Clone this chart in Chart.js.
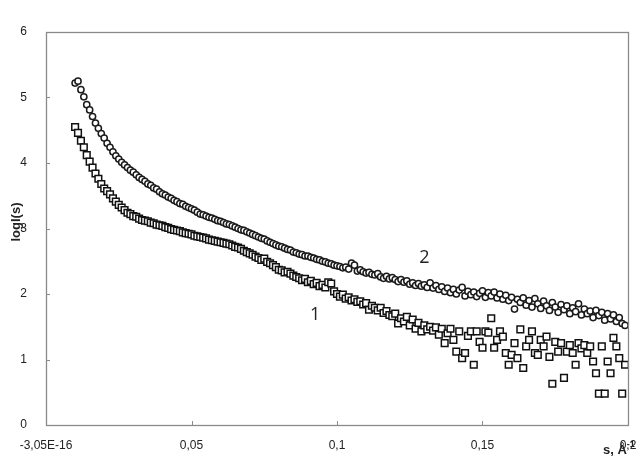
<!DOCTYPE html>
<html>
<head>
<meta charset="utf-8">
<script src="https://cdn.jsdelivr.net/npm/chart.js@4.4.1/dist/chart.umd.min.js"></script>
<style>
  html, body { margin: 0; padding: 0; background: #ffffff; }
  #wrap { width: 643px; height: 466px; }
</style>
</head>
<body>
<div id="wrap"><canvas id="c" width="643" height="466"></canvas></div>
<script>
// s values (1/Å)
const sValues = [
  0.010,0.011,0.012,0.013,0.014,0.015,0.016,0.017,0.018,0.019,
  0.020,0.021,0.022,0.023,0.024,0.025,0.026,0.027,0.028,0.029,
  0.030,0.031,0.032,0.033,0.034,0.035,0.036,0.037,0.038,0.039,
  0.040,0.041,0.042,0.043,0.044,0.045,0.046,0.047,0.048,0.049,
  0.050,0.051,0.052,0.053,0.054,0.055,0.056,0.057,0.058,0.059,
  0.060,0.061,0.062,0.063,0.064,0.065,0.066,0.067,0.068,0.069,
  0.070,0.071,0.072,0.073,0.074,0.075,0.076,0.077,0.078,0.079,
  0.080,0.081,0.082,0.083,0.084,0.085,0.086,0.087,0.088,0.089,
  0.090,0.091,0.092,0.093,0.094,0.095,0.096,0.097,0.098,0.099,
  0.100,0.101,0.102,0.103,0.104,0.105,0.106,0.107,0.108,0.109,
  0.110,0.111,0.112,0.113,0.114,0.115,0.116,0.117,0.118,0.119,
  0.120,0.121,0.122,0.123,0.124,0.125,0.126,0.127,0.128,0.129,
  0.130,0.131,0.132,0.133,0.134,0.135,0.136,0.137,0.138,0.139,
  0.140,0.141,0.142,0.143,0.144,0.145,0.146,0.147,0.148,0.149,
  0.150,0.151,0.152,0.153,0.154,0.155,0.156,0.157,0.158,0.159,
  0.160,0.161,0.162,0.163,0.164,0.165,0.166,0.167,0.168,0.169,
  0.170,0.171,0.172,0.173,0.174,0.175,0.176,0.177,0.178,0.179,
  0.180,0.181,0.182,0.183,0.184,0.185,0.186,0.187,0.188,0.189,
  0.190,0.191,0.192,0.193,0.194,0.195,0.196,0.197,0.198,0.199
];

// curve 1 (squares)
const series1 = [
  4.55,4.46,4.34,4.24,4.12,4.02,3.93,3.84,3.76,3.68,
  3.61,3.57,3.52,3.46,3.41,3.36,3.32,3.28,3.24,3.22,
  3.19,3.18,3.15,3.13,3.12,3.11,3.09,3.08,3.06,3.05,
  3.04,3.02,3.01,2.99,2.98,2.97,2.96,2.94,2.93,2.92,
  2.91,2.89,2.88,2.87,2.86,2.85,2.83,2.82,2.81,2.80,
  2.79,2.78,2.77,2.76,2.74,2.72,2.71,2.69,2.66,2.64,
  2.62,2.60,2.57,2.55,2.52,2.54,2.49,2.47,2.44,2.41,
  2.37,2.36,2.33,2.34,2.31,2.28,2.26,2.24,2.21,2.23,
  2.18,2.20,2.15,2.17,2.12,2.14,2.10,2.18,2.16,2.04,
  2.00,1.96,1.99,1.93,1.95,1.90,1.92,1.88,1.89,1.84,
  1.86,1.76,1.82,1.79,1.75,1.79,1.71,1.74,1.68,1.66,
  1.70,1.55,1.63,1.58,1.65,1.52,1.61,1.47,1.56,1.43,
  1.52,1.46,1.50,1.44,1.49,1.38,1.47,1.25,1.40,1.47,
  1.30,1.12,1.43,1.02,1.10,1.36,1.43,0.92,1.43,1.27,
  1.18,1.43,1.41,1.63,1.18,1.30,1.43,1.35,1.10,0.92,
  1.07,1.25,1.02,1.46,0.87,1.20,1.30,1.43,1.10,1.07,
  1.30,1.20,1.35,1.04,0.63,1.27,1.12,1.25,0.72,1.12,
  1.22,1.10,0.92,1.25,1.17,1.22,1.10,1.20,0.97,0.79,
  0.48,1.20,0.48,0.97,0.79,1.33,1.20,1.02,0.48,0.92
];

// curve 2 (circles)
const series2 = [
  5.22,5.25,5.12,5.01,4.89,4.81,4.71,4.61,4.53,4.45,
  4.38,4.30,4.24,4.17,4.11,4.06,4.01,3.97,3.93,3.89,
  3.86,3.82,3.78,3.75,3.72,3.68,3.66,3.62,3.60,3.56,
  3.53,3.51,3.48,3.46,3.43,3.41,3.38,3.37,3.34,3.32,
  3.30,3.28,3.25,3.22,3.21,3.19,3.17,3.16,3.14,3.12,
  3.11,3.09,3.07,3.06,3.04,3.02,3.00,2.98,2.97,2.95,
  2.93,2.91,2.89,2.87,2.85,2.84,2.81,2.79,2.77,2.75,
  2.73,2.72,2.70,2.68,2.67,2.64,2.63,2.61,2.60,2.58,
  2.58,2.56,2.55,2.53,2.52,2.50,2.49,2.47,2.46,2.44,
  2.43,2.42,2.40,2.41,2.38,2.47,2.44,2.35,2.37,2.34,
  2.32,2.33,2.30,2.29,2.31,2.26,2.24,2.27,2.23,2.25,
  2.22,2.19,2.22,2.18,2.20,2.15,2.17,2.13,2.16,2.12,
  2.14,2.10,2.17,2.09,2.13,2.07,2.11,2.04,2.09,2.02,
  2.07,2.00,2.06,2.10,1.97,2.04,1.99,2.03,1.96,2.01,
  2.05,1.95,2.02,1.97,2.03,1.94,2.00,1.92,1.98,1.90,
  1.95,1.77,1.92,1.87,1.94,1.83,1.90,1.80,1.93,1.85,
  1.78,1.89,1.82,1.75,1.87,1.80,1.72,1.84,1.76,1.82,
  1.70,1.79,1.73,1.85,1.68,1.77,1.70,1.74,1.64,1.75,
  1.67,1.72,1.60,1.70,1.62,1.68,1.58,1.64,1.55,1.52
];

const xTickValues = [0, 0.05, 0.1, 0.15, 0.2];
const xTickLabels = ["-3,05E-16", "0,05", "0,1", "0,15", "0,2"];
const yTickValues = [0, 1, 2, 3, 4, 5, 6];
const curveLabels = ["1", "2"];
const yTitle = "logI(s)";
const xTitle = "s, Å";
const xTitleSup = "-1";

const pts = (arr) => arr.map((v, i) => ({ x: sValues[i], y: v }));

const frame = {
  id: 'frame',
  afterDatasetsDraw(chart) {
    const ctx = chart.ctx;
    const a = chart.chartArea;
    const xs = chart.scales.x, ys = chart.scales.y;
    ctx.save();
    ctx.strokeStyle = '#8a8a8a';
    ctx.lineWidth = 1.3;
    ctx.strokeRect(a.left + 0.5, a.top + 0.5, a.right - a.left, a.bottom - a.top);
    ctx.lineWidth = 1;
    ctx.beginPath();
    xTickValues.forEach(v => {
      const px = Math.round(xs.getPixelForValue(v)) + 0.5;
      ctx.moveTo(px, a.bottom); ctx.lineTo(px, a.bottom - 4);
    });
    yTickValues.forEach(v => {
      const py = Math.round(ys.getPixelForValue(v)) + 0.5;
      ctx.moveTo(a.left, py); ctx.lineTo(a.left + 4, py);
    });
    ctx.stroke();

    // curve numbers
    ctx.fillStyle = '#222';
    ctx.font = '18px "Open Sans", Lato, sans-serif';
    ctx.textAlign = 'center';
    ctx.textBaseline = 'middle';
    ctx.fillText(curveLabels[0], xs.getPixelForValue(0.0925), ys.getPixelForValue(1.68));
    ctx.fillText(curveLabels[1], xs.getPixelForValue(0.1300), ys.getPixelForValue(2.55));

    // axis titles
    ctx.font = 'bold 13px "Liberation Sans", Arial, sans-serif';
    ctx.save();
    ctx.translate(16, 222);
    ctx.rotate(-Math.PI / 2);
    ctx.fillText(yTitle, 0, 0);
    ctx.restore();

    ctx.textAlign = 'left';
    ctx.fillText(xTitle, 603, 450);
    const w = ctx.measureText(xTitle).width;
    ctx.font = 'bold 9px "Liberation Sans", Arial, sans-serif';
    ctx.fillText(xTitleSup, 603 + w, 445);
    ctx.restore();
  }
};

new Chart(document.getElementById('c'), {
  type: 'scatter',
  data: {
    datasets: [
      {
        label: curveLabels[0],
        data: pts(series1),
        pointStyle: 'rect',
        pointRadius: 4.7,
        pointBorderWidth: 1.5,
        backgroundColor: '#ffffff',
        borderColor: '#111111'
      },
      {
        label: curveLabels[1],
        data: pts(series2),
        pointStyle: 'circle',
        pointRadius: 3.1,
        pointBorderWidth: 1.5,
        backgroundColor: '#ffffff',
        borderColor: '#1a1a1a'
      }
    ]
  },
  options: {
    responsive: false,
    devicePixelRatio: 1,
    animation: false,
    layout: { padding: { top: 32, right: 15, left: 0, bottom: 0 } },
    plugins: { legend: { display: false }, tooltip: { enabled: false } },
    scales: {
      x: {
        type: 'linear',
        min: 0, max: 0.2,
        afterBuildTicks(scale) { scale.ticks = xTickValues.map(v => ({ value: v })); },
        afterFit(scale) { scale.height = 41; },
        grid: { display: false },
        border: { display: false },
        ticks: {
          padding: 5,
          maxRotation: 0,
          autoSkip: false,
          color: '#222',
          font: { family: '"Liberation Sans", Arial, sans-serif', size: 12 },
          callback(v) { const i = xTickValues.indexOf(v); return i >= 0 ? xTickLabels[i] : ''; }
        }
      },
      y: {
        min: 0, max: 6,
        afterBuildTicks(scale) { scale.ticks = yTickValues.map(v => ({ value: v })); },
        afterFit(scale) { scale.width = 46; },
        grid: { display: false },
        border: { display: false },
        ticks: {
          padding: 11,
          color: '#222',
          font: { family: '"Liberation Sans", Arial, sans-serif', size: 12 },
          callback(v) { return String(v); }
        }
      }
    }
  },
  plugins: [frame]
});
</script>
</body>
</html>
